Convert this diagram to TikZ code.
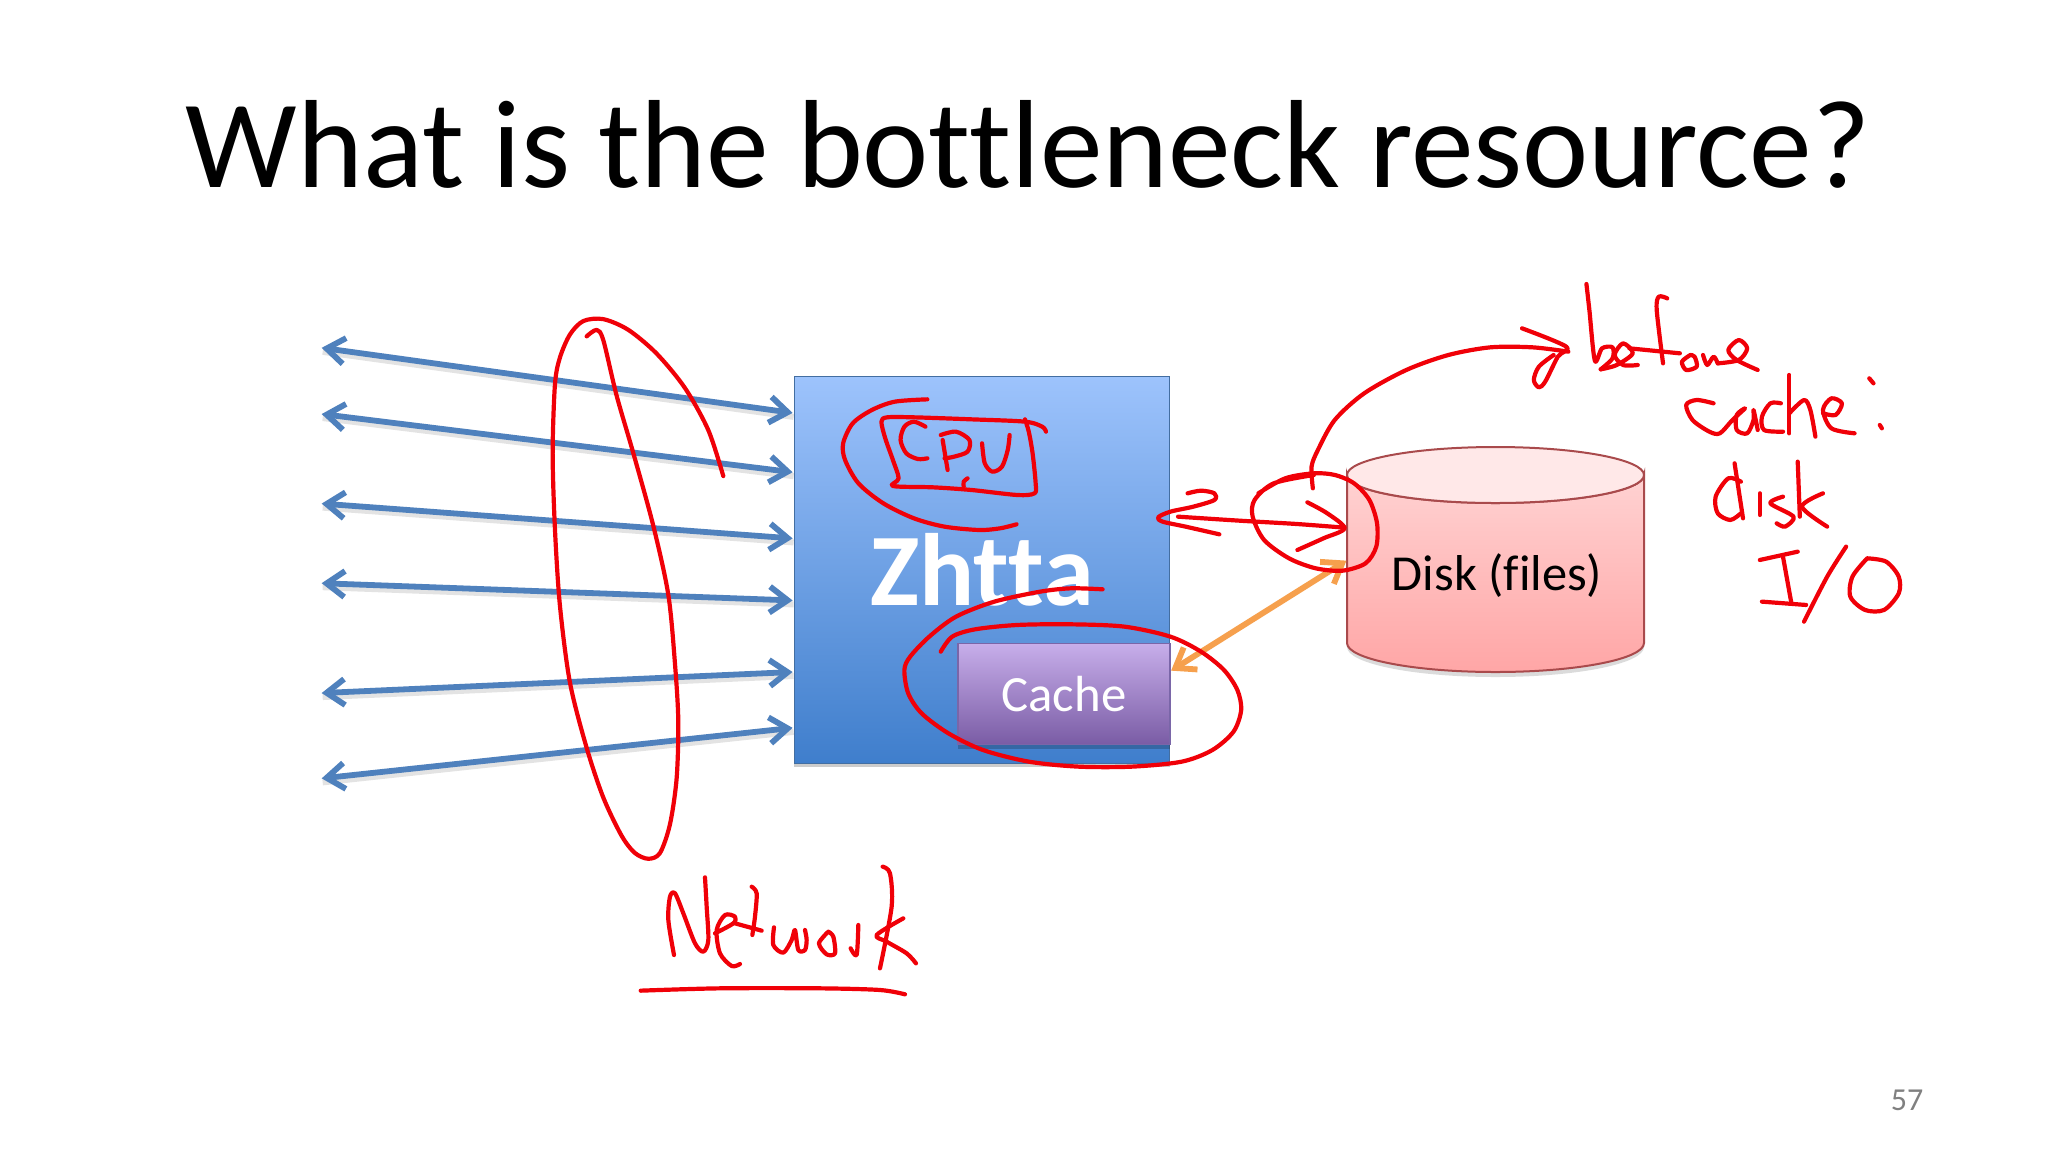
\documentclass[tikz,border=0pt]{standalone}
\usepackage{fontspec}
\setmainfont[Ligatures=NoCommon]{Carlito}
\usetikzlibrary{arrows.meta}
\definecolor{ink}{HTML}{F00008}
\definecolor{arrowblue}{HTML}{4F81BD}
\definecolor{arroworange}{HTML}{F6A04D}
\tikzset{
  penink/.style={draw=ink,line width=2.1pt,line cap=round,line join=round},
  bluelink/.style={draw=arrowblue,line width=2.9pt,{Straight Barb[length=9pt,width=13pt,line width=2.9pt]}-{Straight Barb[length=9pt,width=13pt,line width=2.9pt]}},
  orangelink/.style={draw=arroworange,line width=2.9pt,{Straight Barb[length=9pt,width=13pt,line width=2.9pt]}-{Straight Barb[length=9pt,width=13pt,line width=2.9pt]}},
  linkshadow/.style={draw=black,opacity=.11,line width=3pt},
  boxshadow/.style={fill=black,opacity=.2,draw=none},
  server/.style={rectangle,inner sep=0pt,minimum width=187.5pt,minimum height=193.5pt,draw=arrowblue!85!black,line width=.8pt,top color=boxtop,bottom color=boxbot},
  cachebox/.style={rectangle,inner sep=0pt,minimum width=106pt,minimum height=50.5pt,draw=cacheedge,line width=.8pt,top color=cachetop,bottom color=cachebot,text=white,font=\fontsize{25.4}{25.4}\selectfont},
  zoomA/.style={shift={(780,360)},xscale=.3827,yscale=.3333},
  zoomB/.style={shift={(1280,260)},xscale=.4209,yscale=.3333},
  zoomC/.style={shift={(300,300)},xscale=.3333,yscale=.3827},
  zoomD/.style={shift={(620,840)},xscale=.3333,yscale=.3333},
}
\definecolor{boxtop}{HTML}{9DC3FC}
\definecolor{boxbot}{HTML}{3F7ECC}
\definecolor{cachetop}{HTML}{C7AEEA}
\definecolor{cachebot}{HTML}{7A5CA5}
\definecolor{cacheedge}{HTML}{7A66A8}
\definecolor{disktop}{HTML}{FFD2D2}
\definecolor{diskbot}{HTML}{FFA6A6}
\definecolor{diskcap}{HTML}{FFE8E8}
\definecolor{diskedge}{HTML}{A94A4C}
\newcommand\pen[1]{\draw[penink] plot[smooth,tension=.5] coordinates {#1};}
\begin{document}
\begin{tikzpicture}[x=.5pt,y=-.5pt]
\useasboundingbox (0,0) rectangle (2048,1152);
\fill[white] (0,0) rectangle (2048,1152);
% title
\node[font=\fontsize{62.7}{62.7}\selectfont,text=black,inner sep=0pt,anchor=base] (title) at (1028,187) {What is the bottleneck resource?};
\node[font=\fontsize{16}{16}\selectfont,text=black!50,inner sep=0pt,anchor=base] (pageno) at (1907,1110) {57};
% server
\fill[boxshadow] (794,381) rectangle (1170,767);
\node[server] (server) at (982,570) {};
\node[font=\bfseries\fontsize{51.4}{51.4}\selectfont,text=white,inner sep=0pt,anchor=base] (zhtta) at (982,605) {Zhtta};
\fill[boxshadow] (958,650) rectangle (1170,749);
\node[cachebox] (cache) at (1064,694) {Cache};
% disk
\fill[black,opacity=.14] (1347,482) -- (1347,647) arc[start angle=180,end angle=0,x radius=148.5,y radius=30] -- (1644,482) -- cycle;
\shade[top color=disktop,bottom color=diskbot,draw=diskedge,line width=1pt]
  (1347,475) -- (1347,643) arc[start angle=180,end angle=0,x radius=148.5,y radius=29] -- (1644,475) arc[start angle=0,end angle=180,x radius=148.5,y radius=28] -- cycle;
\fill[diskcap,draw=diskedge,line width=1pt] (1495.5,475) ellipse[x radius=148.5,y radius=28];
\node[font=\fontsize{25.2}{25.2}\selectfont,text=black,inner sep=0pt,anchor=base] (disk) at (1497,590) {Disk (files)};
% blue connectors
\begin{scope}[zoomC]
\coordinate (l1) at (65,125);  \coordinate (r1) at (1478,295);
\coordinate (l2) at (65,298);  \coordinate (r2) at (1478,450);
\coordinate (l3) at (65,532);  \coordinate (r3) at (1478,623);
\coordinate (l4) at (65,740);  \coordinate (r4) at (1478,785);
\coordinate (l5) at (65,1027); \coordinate (r5) at (1478,972);
\coordinate (l6) at (65,1250); \coordinate (r6) at (1478,1118);
\end{scope}
\foreach \i in {1,...,6}{
  \draw[linkshadow] ([shift={(1,4)}]l\i) -- ([shift={(1,4)}]r\i);
  \draw[bluelink] (l\i) -- (r\i);
}
% orange connector
\begin{scope}[zoomA]
\coordinate (oa) at (1022,932);
\coordinate (ob) at (1480,602);
\end{scope}
\draw[orangelink] (oa) -- (ob);
% ink: network loop
\begin{scope}[zoomC]
\pen{(860,95)(890,78)(910,105)(950,250)(1000,400)(1060,590)(1105,770)(1125,950)(1135,1100)(1130,1250)(1110,1370)(1080,1445)(1045,1460)(1005,1445)(965,1400)(910,1300)(860,1170)(810,1000)(780,800)(765,600)(758,400)(765,220)(780,150)(810,90)(850,55)(910,50)(985,78)(1070,140)(1155,230)(1225,340)(1270,460)}
\end{scope}
% ink: network word
\begin{scope}[zoomD]
\pen{(162,345)(145,240)(150,170)(165,160)(190,220)(225,310)(250,335)(265,300)(260,200)(255,112)}
\pen{(285,280)(340,250)(345,230)(315,225)(290,270)(300,340)(335,378)(360,372)}
\pen{(395,140)(410,160)(405,230)(397,285)}
\pen{(345,250)(425,272)}
\pen{(462,262)(460,315)(490,338)(515,300)(525,270)(535,330)(555,330)(560,300)(555,270)}
\pen{(625,275)(597,310)(620,343)(645,340)(640,290)(625,275)}
\pen{(715,255)(710,345)(692,325)}
\pen{(788,80)(810,100)(815,200)(780,385)}
\pen{(850,235)(770,285)(800,305)(860,340)(888,370)}
\pen{(62,452)(300,445)(600,445)(780,450)(855,463)}
\end{scope}
% ink: CPU etc
\begin{scope}[zoomA]
\pen{(385,118)(300,125)(240,150)(190,190)(165,250)(170,300)(205,370)(270,430)(350,475)(430,500)(520,510)(575,505)(618,493)}
\pen{(695,215)(685,200)(640,185)(500,178)(350,172)(280,172)(265,185)(275,235)(295,300)(310,355)(295,378)(400,382)(500,390)(620,405)(665,400)(668,370)(660,280)(650,215)(640,178)}
\pen{(380,200)(350,185)(325,200)(315,240)(330,280)(360,297)(385,295)}
\pen{(438,330)(425,240)}
\pen{(420,225)(460,215)(495,240)(490,275)(455,290)(430,295)}
\pen{(528,250)(535,310)(555,335)(580,320)(595,270)(600,225)}
\pen{(480,380)(480,365)(490,355)}
\pen{(1065,400)(1100,392)(1135,400)(1135,420)(1080,440)(1020,455)(988,472)(1000,485)(1060,500)(1148,523)}
\pen{(1040,470)(1200,482)(1350,492)(1475,503)}
\pen{(1378,427)(1430,460)(1475,505)(1420,535)(1352,570)}
\pen{(1395,345)(1290,370)(1240,420)(1235,470)(1265,540)(1330,595)(1400,625)(1470,632)(1530,610)(1558,560)(1560,490)(1540,420)(1500,370)(1450,345)(1395,340)(1320,355)(1250,400)}
\pen{(843,688)(760,685)(680,695)(560,725)(460,770)(390,830)(340,890)(325,930)(335,1000)(370,1060)(440,1120)(530,1170)(650,1205)(780,1220)(920,1220)(1050,1205)(1130,1170)(1185,1115)(1205,1050)(1195,990)(1160,930)(1100,875)(1020,830)(900,800)(760,793)(620,795)(510,808)(450,830)(420,875)}
\end{scope}
% ink: before cache disk I/O
\begin{scope}[zoomB]
\pen{(78,685)(75,620)(90,570)(130,480)(200,400)(300,330)(400,285)(500,262)(600,262)(685,275)}
\pen{(575,205)(680,260)(660,290)(630,365)(615,382)(603,360)(615,320)(650,285)}
% b
\pen{(728,72)(735,150)(748,302)(765,265)(790,262)(790,295)(762,328)}
% e
\pen{(762,328)(800,315)(838,280)(815,250)(795,285)(815,315)(850,315)}
% f
\pen{(920,115)(900,110)(895,150)(910,310)}
\pen{(830,265)(950,280)}
% o
\pen{(975,285)(955,305)(965,330)(990,320)(985,290)(975,285)}
% r
\pen{(1005,285)(1015,315)(1030,290)(1040,310)}
% e
\pen{(1040,310)(1090,300)(1110,265)(1090,240)(1065,270)(1085,300)(1135,330)}
% cache: c a
\pen{(1030,430)(990,420)(965,435)(980,480)(1020,515)(1045,520)(1075,480)(1105,445)(1085,465)(1085,510)(1110,520)(1125,480)(1125,450)(1135,510)}
\pen{(1190,430)(1165,430)(1145,470)(1150,510)(1195,515)}
\pen{(1210,345)(1210,520)}
\pen{(1210,460)(1245,420)(1260,450)(1272,530)}
\pen{(1290,460)(1320,465)(1335,430)(1310,415)(1290,450)(1310,505)(1365,520)}
\pen{(1400,355)(1410,370)}
\pen{(1425,495)(1430,505)}
% disk
\pen{(1095,665)(1065,655)(1035,710)(1040,760)(1070,780)(1095,760)}
\pen{(1080,610)(1100,775)}
\pen{(1140,700)(1140,765)}
\pen{(1195,710)(1165,730)(1220,770)(1200,800)(1180,790)}
\pen{(1230,605)(1235,770)}
\pen{(1290,700)(1240,740)(1300,800)}
% I/O
\pen{(1140,900)(1230,875)}
\pen{(1195,890)(1215,1030)}
\pen{(1145,1025)(1250,1035)}
\pen{(1345,860)(1300,950)(1245,1085)}
\pen{(1395,895)(1360,950)(1355,1010)(1390,1050)(1435,1050)(1470,1000)(1470,950)(1440,905)(1395,895)}
\end{scope}
\end{tikzpicture}
\end{document}
